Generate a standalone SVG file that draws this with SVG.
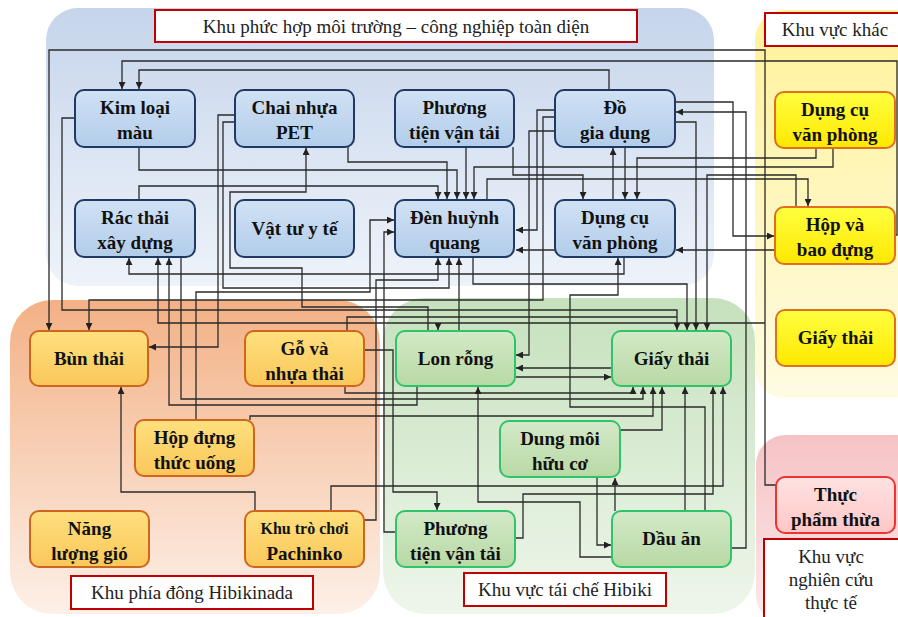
<svg xmlns="http://www.w3.org/2000/svg" width="898" height="617" viewBox="0 0 898 617">
<defs>
<linearGradient id="gB" x1="0" y1="0" x2="0" y2="1"><stop offset="0" stop-color="#c6d5eb"/><stop offset="1" stop-color="#eef3fa"/></linearGradient>
<linearGradient id="gO" x1="0" y1="0" x2="0" y2="1"><stop offset="0" stop-color="#f3b185"/><stop offset="1" stop-color="#fdf0e8"/></linearGradient>
<linearGradient id="gG" x1="0" y1="0" x2="0" y2="1"><stop offset="0" stop-color="#c6e1bd"/><stop offset="1" stop-color="#eef6eb"/></linearGradient>
<linearGradient id="gY" x1="0" y1="0" x2="0" y2="1"><stop offset="0" stop-color="#fff29a"/><stop offset="1" stop-color="#fffbe2"/></linearGradient>
<linearGradient id="gP" x1="0" y1="0" x2="0" y2="1"><stop offset="0" stop-color="#f5c3c6"/><stop offset="1" stop-color="#fdeaea"/></linearGradient>
<linearGradient id="nB" x1="0" y1="0" x2="0" y2="1"><stop offset="0" stop-color="#d0e1f4"/><stop offset="1" stop-color="#b2cdea"/></linearGradient>
<linearGradient id="nO" x1="0" y1="0" x2="0" y2="1"><stop offset="0" stop-color="#ffe07e"/><stop offset="1" stop-color="#f9c75a"/></linearGradient>
<linearGradient id="nG" x1="0" y1="0" x2="0" y2="1"><stop offset="0" stop-color="#d3e9c8"/><stop offset="1" stop-color="#b8d9a5"/></linearGradient>
<linearGradient id="nY" x1="0" y1="0" x2="0" y2="1"><stop offset="0" stop-color="#ffff40"/><stop offset="1" stop-color="#ffe800"/></linearGradient>
<linearGradient id="nP" x1="0" y1="0" x2="0" y2="1"><stop offset="0" stop-color="#ffe2e2"/><stop offset="1" stop-color="#ffc6c6"/></linearGradient>
<marker id="ar" markerWidth="7" markerHeight="7" refX="7" refY="3.5" orient="auto" markerUnits="userSpaceOnUse"><path d="M0,0 L7,3.5 L0,7 z" fill="#222"/></marker>
<style>
.reg{stroke:none}
.lbl{fill:#fff;stroke:#c00000;stroke-width:2}
.lt{font-family:'Liberation Serif','DejaVu Serif',serif;font-size:19px;fill:#222;text-anchor:middle}
.nb{fill:url(#nB);stroke:#203864;stroke-width:2}
.no{fill:url(#nO);stroke:#d0651c;stroke-width:2}
.ng{fill:url(#nG);stroke:#2fc46a;stroke-width:2}
.ny{fill:url(#nY);stroke:#e07020;stroke-width:2}
.np{fill:url(#nP);stroke:#ee3333;stroke-width:2}
.t{font-family:'Liberation Serif','DejaVu Serif',serif;font-size:19px;font-weight:bold;fill:#111;text-anchor:middle}
.c path{fill:none;stroke:#2a2a2a;stroke-width:1.3}
.c path.a{marker-end:url(#ar)}
</style>
</defs>

<!-- regions -->
<rect class="reg" x="46" y="8" width="668" height="278" rx="32" fill="url(#gB)"/>
<rect class="reg" x="10" y="300" width="370" height="314" rx="42" fill="url(#gO)"/>
<rect class="reg" x="383" y="298" width="372" height="316" rx="42" fill="url(#gG)"/>
<rect class="reg" x="755" y="10" width="170" height="388" rx="30" fill="url(#gY)"/>
<rect class="reg" x="756" y="435" width="170" height="190" rx="30" fill="url(#gP)"/>

<!-- region labels -->
<g id="lbl-complex"><rect class="lbl" x="155" y="10" width="482" height="32"/><text class="lt" x="396" y="33">Khu phức hợp môi trường – công nghiệp toàn diện</text></g>
<g id="lbl-other"><rect class="lbl" x="765" y="13" width="140" height="33"/><text class="lt" x="835" y="36">Khu vực khác</text></g>
<g id="lbl-east"><rect class="lbl" x="71" y="576" width="242" height="33"/><text class="lt" x="192" y="599">Khu phía đông Hibikinada</text></g>
<g id="lbl-recycle"><rect class="lbl" x="464" y="573" width="202" height="33"/><text class="lt" x="565" y="596">Khu vực tái chế Hibiki</text></g>
<g id="lbl-research"><rect class="lbl" x="764" y="539" width="140" height="85"/><text class="lt" x="831" y="563">Khu vực</text><text class="lt" x="831" y="586">nghiên cứu</text><text class="lt" x="831" y="609">thực tế</text></g>

<!-- connectors -->
<g class="c" id="connectors">
<path class="a" d="M895,235 H897 V61 H122 V89"/>
<path class="a" d="M609,90 V70 H139 V89"/>
<path class="a" d="M776,485 H765 V50 H49 V330"/>
<path class="a" d="M765,323 H158 V258"/>
<path class="a" d="M438,323 V330"/>
<path class="a" d="M624,257 V274 H129 V258"/>
<path class="a" d="M417,386 V405 H169 V258"/>
<path class="a" d="M181,257 V399 H643 V387"/>
<path class="a" d="M345,386 V393 H633 V387"/>
<path class="a" d="M75,118 H62 V310 H677 V330"/>
<path d="M347,331 V317 H677"/>
<path class="a" d="M235,115 H218 V347 H149"/>
<path class="a" d="M235,122 H223 V288 H449 V258"/>
<path class="a" d="M487,200 V179 H808 V206"/>
<path class="a" d="M473,257 V284 H687 V330"/>
<path class="a" d="M466,147 V199"/>
<path class="a" d="M513,147 V175 H583 V199"/>
<path class="a" d="M139,147 V170 H457 V199"/>
<path class="a" d="M348,147 V162 H447 V199"/>
<path class="a" d="M139,200 V186 H438 V199"/>
<path class="a" d="M833,148 V167 H474 V199"/>
<path class="a" d="M816,148 V158 H637 V199"/>
<path class="a" d="M625,147 V199"/>
<path class="a" d="M613,200 V148"/>
<path class="a" d="M555,110 H537 V230 H516"/>
<path class="a" d="M555,131 H529 V355 H516"/>
<path class="a" d="M555,117 H543 V300 H89 V330"/>
<path class="a" d="M675,122 H696 V330"/>
<path class="a" d="M675,102 H733 V236 H774"/>
<path class="a" d="M731,548 H746 V112 H676"/>
<path class="a" d="M796,207 V175 H707 V330"/>
<path class="a" d="M775,250 H676"/>
<path class="a" d="M555,250 H516"/>
<path class="a" d="M196,420 V292 H370 V220 H394"/>
<path class="a" d="M396,532 H384 V232 H394"/>
<path class="a" d="M364,520 H376 V280 H438 V258"/>
<path class="a" d="M459,331 V258"/>
<path class="a" d="M428,331 V307 H302 V268 H230 V192 H306 V148"/>
<path class="a" d="M705,511 V407 H570 V295 H618 V258"/>
<path class="a" d="M515,377 H611"/>
<path class="a" d="M612,368 H516"/>
<path class="a" d="M250,420 V416 H653 V387"/>
<path class="a" d="M620,430 H662 V387"/>
<path class="a" d="M685,511 V387"/>
<path class="a" d="M515,538 H523 V494 H713 V387"/>
<path class="a" d="M331,511 V486 H723 V387"/>
<path class="a" d="M364,350 H393 V492 H437 V510"/>
<path class="a" d="M612,557 H580 V502 H478 V387"/>
<path class="a" d="M597,477 V545 H611"/>
<path class="a" d="M615,511 V478"/>
<path class="a" d="M255,511 V492 H121 V387"/>
</g>

<!-- blue nodes -->
<g id="n-kimloai"><rect class="nb" x="75" y="90" width="120" height="57" rx="9"/><text class="t" x="135" y="114">Kim loại</text><text class="t" x="135" y="139">màu</text></g>
<g id="n-pet"><rect class="nb" x="235" y="90" width="119" height="57" rx="9"/><text class="t" x="294.5" y="114">Chai nhựa</text><text class="t" x="294.5" y="139">PET</text></g>
<g id="n-ptvt1"><rect class="nb" x="395" y="90" width="119" height="57" rx="9"/><text class="t" x="454.5" y="114">Phương</text><text class="t" x="454.5" y="139">tiện vận tải</text></g>
<g id="n-dogiadung"><rect class="nb" x="555" y="90" width="120" height="57" rx="9"/><text class="t" x="615" y="114">Đồ</text><text class="t" x="615" y="139">gia dụng</text></g>
<g id="n-racthai"><rect class="nb" x="75" y="200" width="120" height="57" rx="9"/><text class="t" x="135" y="224">Rác thải</text><text class="t" x="135" y="249">xây dựng</text></g>
<g id="n-vattu"><rect class="nb" x="235" y="200" width="119" height="57" rx="9"/><text class="t" x="294.5" y="235">Vật tư y tế</text></g>
<g id="n-den"><rect class="nb" x="395" y="200" width="119" height="57" rx="9"/><text class="t" x="454.5" y="224">Đèn huỳnh</text><text class="t" x="454.5" y="249">quang</text></g>
<g id="n-dungcu1"><rect class="nb" x="555" y="200" width="120" height="57" rx="9"/><text class="t" x="615" y="224">Dụng cụ</text><text class="t" x="615" y="249">văn phòng</text></g>

<!-- orange nodes -->
<g id="n-bun"><rect class="no" x="30" y="331" width="118" height="55" rx="9"/><text class="t" x="89" y="365">Bùn thải</text></g>
<g id="n-go"><rect class="no" x="245" y="331" width="119" height="55" rx="9"/><text class="t" x="304.5" y="355">Gỗ và</text><text class="t" x="304.5" y="380">nhựa thải</text></g>
<g id="n-hopdung"><rect class="no" x="135" y="420" width="119" height="56" rx="9"/><text class="t" x="194.5" y="444">Hộp đựng</text><text class="t" x="194.5" y="469">thức uống</text></g>
<g id="n-gio"><rect class="no" x="30" y="511" width="119" height="56" rx="9"/><text class="t" x="89.5" y="535">Năng</text><text class="t" x="89.5" y="560">lượng gió</text></g>
<g id="n-pachinko"><rect class="no" x="245" y="511" width="119" height="56" rx="9"/><text class="t" x="304.5" y="534" style="font-size:16px">Khu trò chơi</text><text class="t" x="304.5" y="560">Pachinko</text></g>

<!-- green nodes -->
<g id="n-lon"><rect class="ng" x="396" y="331" width="119" height="55" rx="9"/><text class="t" x="455.5" y="365">Lon rỗng</text></g>
<g id="n-giay1"><rect class="ng" x="612" y="331" width="119" height="55" rx="9"/><text class="t" x="671.5" y="365">Giấy thải</text></g>
<g id="n-dungmoi"><rect class="ng" x="500" y="421" width="120" height="56" rx="9"/><text class="t" x="560" y="445">Dung môi</text><text class="t" x="560" y="470">hữu cơ</text></g>
<g id="n-ptvt2"><rect class="ng" x="396" y="511" width="119" height="56" rx="9"/><text class="t" x="455.5" y="535">Phương</text><text class="t" x="455.5" y="560">tiện vận tải</text></g>
<g id="n-dauan"><rect class="ng" x="612" y="511" width="119" height="56" rx="9"/><text class="t" x="671.5" y="545">Dầu ăn</text></g>

<!-- yellow nodes -->
<g id="n-dungcu2"><rect class="ny" x="775" y="92" width="120" height="56" rx="9"/><text class="t" x="835" y="116">Dụng cụ</text><text class="t" x="835" y="141">văn phòng</text></g>
<g id="n-hop"><rect class="ny" x="775" y="207" width="120" height="57" rx="9"/><text class="t" x="835" y="231">Hộp và</text><text class="t" x="835" y="256">bao đựng</text></g>
<g id="n-giay2"><rect class="ny" x="776" y="310" width="119" height="56" rx="9"/><text class="t" x="835.5" y="344">Giấy thải</text></g>

<!-- pink node -->
<g id="n-thucpham"><rect class="np" x="776" y="477" width="119" height="56" rx="9"/><text class="t" x="835.5" y="501">Thực</text><text class="t" x="835.5" y="526">phẩm thừa</text></g>
</svg>
